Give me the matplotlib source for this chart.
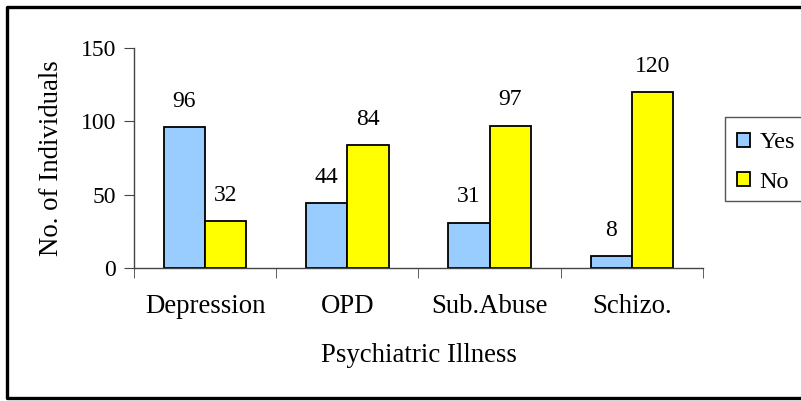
import matplotlib
matplotlib.use("Agg")
import matplotlib.pyplot as plt
import numpy as np
from matplotlib.lines import Line2D

categories = ["Depression", "OPD", "Sub.Abuse", "Schizo."]
yes_vals = [96, 44, 31, 8]
no_vals = [32, 84, 97, 120]
series_names = ["Yes", "No"]
yticks = [0, 50, 100, 150]

plt.rcParams['font.family'] = ['Liberation Serif', 'DejaVu Serif']
FS = 19.3
FSN = 17
FSL = 17.5

fig = plt.figure(figsize=(8.01, 4.01), dpi=100)
ax = fig.add_axes([134/801, 1-268/401, (703-134)/801, (268-48)/401])

x = np.arange(len(categories))
w = 0.29
b1 = ax.bar(x - w/2, yes_vals, w, color="#99CCFF", edgecolor="black", linewidth=1.3, label=series_names[0])
b2 = ax.bar(x + w/2, no_vals, w, color="#FFFF00", edgecolor="black", linewidth=1.3, label=series_names[1])
for bars in (b1, b2):
    ax.bar_label(bars, padding=11, fontsize=FSN)

ax.set_xlim(-0.5, len(categories) - 0.5)
ax.set_ylim(0, 150)
ax.set_yticks(yticks)
ax.set_xticks(x)
ax.set_xticklabels(categories, fontsize=FS)
ax.tick_params(axis='x', length=0, pad=19)
ax.set_xticks(np.arange(-0.5, len(categories)), minor=True)
ax.tick_params(axis='x', which='minor', length=7, direction='out', color='#444444')
ax.tick_params(axis='y', labelsize=FSN, length=7, direction='out', color='#444444', pad=6)
for s in ('top', 'right'):
    ax.spines[s].set_visible(False)
for s in ('left', 'bottom'):
    ax.spines[s].set_color('#444444')
    ax.spines[s].set_linewidth(1.0)

ax.set_xlabel("Psychiatric Illness", fontsize=FS, labelpad=17)
ax.set_ylabel("No. of Individuals", fontsize=FS, labelpad=12)

leg = ax.legend(loc='upper left', bbox_to_anchor=(724/801, 1-119/401), bbox_transform=fig.transFigure,
                fontsize=FSL, frameon=False, handlelength=0.5, handleheight=0.5,
                handletextpad=0.4, borderpad=0.55, labelspacing=0.75, borderaxespad=0)

# legend box, cut off by the right edge of the image as in the original (open path)
xr = 1.0
lx, lt, lb = 724.5/801, 1 - 116.5/401, 1 - 200.5/401
fig.add_artist(Line2D([xr, lx, lx, xr], [lt, lt, lb, lb], transform=fig.transFigure,
                      color='#555555', linewidth=1.0, solid_capstyle='butt'))

# outer frame (right edge lies outside the image)
x0, y0, y1 = 7/801, 1 - 398/401, 1 - 7/401
fig.add_artist(Line2D([xr, x0, x0, xr], [y1, y1, y0, y0], transform=fig.transFigure,
                      color='black', linewidth=2.4, solid_capstyle='butt'))

fig.savefig("out.png", dpi=100)
